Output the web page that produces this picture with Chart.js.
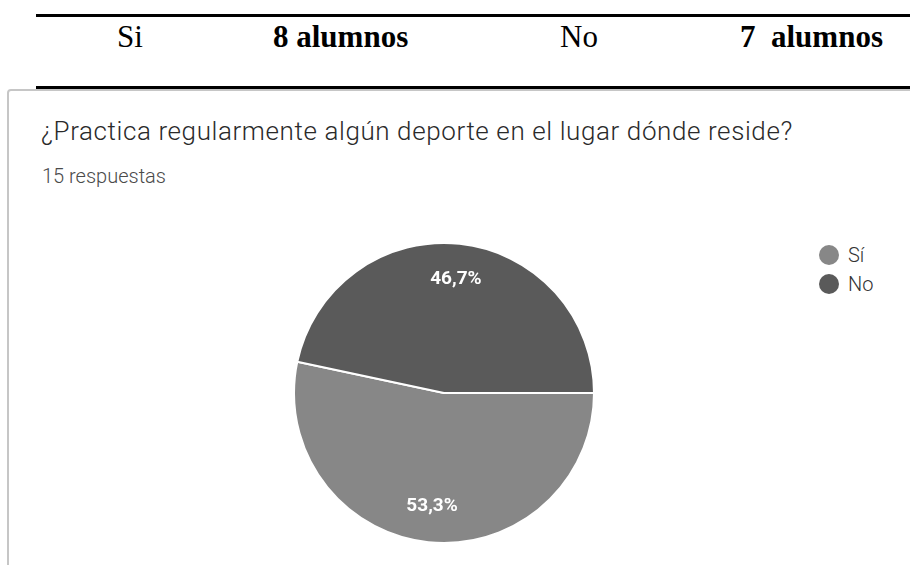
<!DOCTYPE html>
<html lang="es">
<head>
<meta charset="UTF-8">
<title>¿Practica regularmente algún deporte?</title>
<script src="https://cdn.jsdelivr.net/npm/chart.js"></script>
<style>
  body { margin: 0; width: 910px; height: 565px; background: #fff; position: relative; overflow: hidden; }
  .tabla { position: absolute; left: 36px; top: 14px; width: 880px; height: 69px;
           border-top: 3px solid #000; border-bottom: 3px solid #000;
           font-family: "Liberation Serif", "Times New Roman", serif; font-size: 31px; color: #000; }
  .tabla span { position: absolute; top: 2px; line-height: 36px; }
  .tabla b { font-weight: bold; }
  .card { position: absolute; left: 7px; top: 89px; width: 920px; height: 500px;
          border: 2px solid #c6c6c6; border-radius: 4px 0 0 0; }
  .titulo { position: absolute; left: 41px; top: 116px; font-family: Roboto, sans-serif;
            font-weight: 300; font-size: 26px; line-height: 30px; letter-spacing: 0.6px;
            color: #2a2a2a; white-space: nowrap; }
  .sub { position: absolute; left: 42px; top: 164px; font-family: Roboto, sans-serif;
         font-weight: 300; font-size: 20px; line-height: 24px; color: #4a4a4a; }
  .chart-box { position: absolute; left: 293px; top: 242px; width: 302px; height: 302px; }
  .leyenda { position: absolute; left: 819px; top: 240px; font-family: Roboto, sans-serif;
             font-weight: 300; font-size: 20px; color: #333; }
  .leyenda div { display: flex; align-items: center; height: 29px; }
  .leyenda i { display: inline-block; width: 20px; height: 20px; border-radius: 50%; margin-right: 9px; }
</style>
</head>
<body>
<div class="tabla">
  <span style="left:81px">Si</span>
  <span style="left:237px"><b>8 alumnos</b></span>
  <span style="left:524px">No</span>
  <span style="left:704px"><b>7&nbsp; alumnos</b></span>
</div>
<div class="card"></div>
<div class="titulo">¿Practica regularmente algún deporte en el lugar dónde reside?</div>
<div class="sub">15 respuestas</div>
<div class="chart-box"><canvas id="pie" width="302" height="302"></canvas></div>
<div class="leyenda" id="leyenda"></div>

<script>
const labels = ['Sí', 'No'];
const values = [8, 7];
const colors = ['#878787', '#5a5a5a'];

// legend to the right, built from the same arrays
document.getElementById('leyenda').innerHTML = labels.map((l, i) =>
  '<div><i style="background:' + colors[i] + '"></i>' + l + '</div>').join('');

// percentage labels inside the slices
const pctLabels = {
  id: 'pctLabels',
  afterDatasetsDraw(chart) {
    const c = chart.ctx;
    const meta = chart.getDatasetMeta(0);
    const total = values.reduce((a, b) => a + b, 0);
    c.save();
    c.fillStyle = '#fff';
    c.font = 'bold 19px Roboto, sans-serif';
    c.textAlign = 'center';
    c.textBaseline = 'middle';
    meta.data.forEach((arc, i) => {
      const mid = (arc.startAngle + arc.endAngle) / 2;
      const r = arc.outerRadius * 0.76;
      const txt = (values[i] / total * 100).toFixed(1).replace('.', ',') + '%';
      c.fillText(txt, arc.x + Math.cos(mid) * r, arc.y + Math.sin(mid) * r);
    });
    c.restore();
  }
};

new Chart(document.getElementById('pie'), {
  type: 'pie',
  data: {
    labels: labels,
    datasets: [{ data: values, backgroundColor: colors, borderColor: '#fff', borderWidth: 2 }]
  },
  options: {
    responsive: false,
    animation: false,
    rotation: 90,
    layout: { padding: 0 },
    plugins: { legend: { display: false }, tooltip: { enabled: false } }
  },
  plugins: [pctLabels]
});
</script>
</body>
</html>
